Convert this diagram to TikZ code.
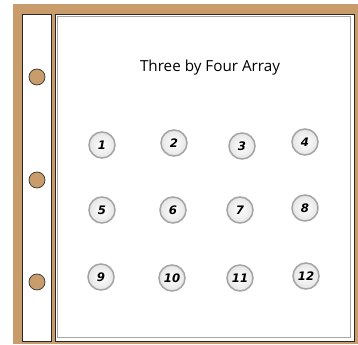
\documentclass[tikz,border=0pt]{standalone}
\usepackage{fontspec}
\usepackage{tikz}
\usetikzlibrary{positioning}
\newfontfamily\titlefont{Open Sans}
\newfontfamily\digitfont{DejaVu Sans}
\definecolor{binder}{RGB}{201,156,108}
\definecolor{ringgray}{RGB}{165,165,165}
\tikzset{
  hole/.style={draw=black!80, fill=binder, line width=0.6pt},
  counter/.style={circle, draw=ringgray, line width=1.3pt, inner color=white, outer color=black!10,
    minimum size=26*0.03cm, inner sep=0pt, font=\digitfont\bfseries\itshape\normalsize}
}

\begin{document}
\begin{tikzpicture}[x=0.03cm, y=-0.03cm]
\useasboundingbox (0,0) rectangle (358,345);
\fill[white] (0,0) rectangle (358,345);
\fill[binder] (13,4) rectangle (358,344);

% binder strip with holes
\draw[fill=white, line width=0.8pt, draw=black!85] (22,14) rectangle (51,341);
\draw[hole] (37,77) circle (8);
\draw[hole] (37,180) circle (8);
\draw[hole] (37,282) circle (8);

% page
\draw[fill=white, line width=0.8pt, draw=black!85] (55,14) rectangle (354,341);
\draw[fill=white, line width=0.6pt, draw=gray!70] (57,16) rectangle (350,337);

\node[font=\titlefont\fontsize{13}{15}\selectfont] (title) at (210,68) {Three by Four Array};

\node[counter] (c1) at (102,145) {1};
\node[counter] (c2) at (174,143) {2};
\node[counter] (c3) at (242,146) {3};
\node[counter] (c4) at (305,142) {4};
\node[counter] (c5) at (102,210) {5};
\node[counter] (c6) at (173,210) {6};
\node[counter] (c7) at (240,210) {7};
\node[counter] (c8) at (305,208) {8};
\node[counter] (c9) at (101,277) {9};
\node[counter] (c10) at (172,278) {10};
\node[counter] (c11) at (240,278) {11};
\node[counter] (c12) at (306,276) {12};
\end{tikzpicture}
\end{document}
